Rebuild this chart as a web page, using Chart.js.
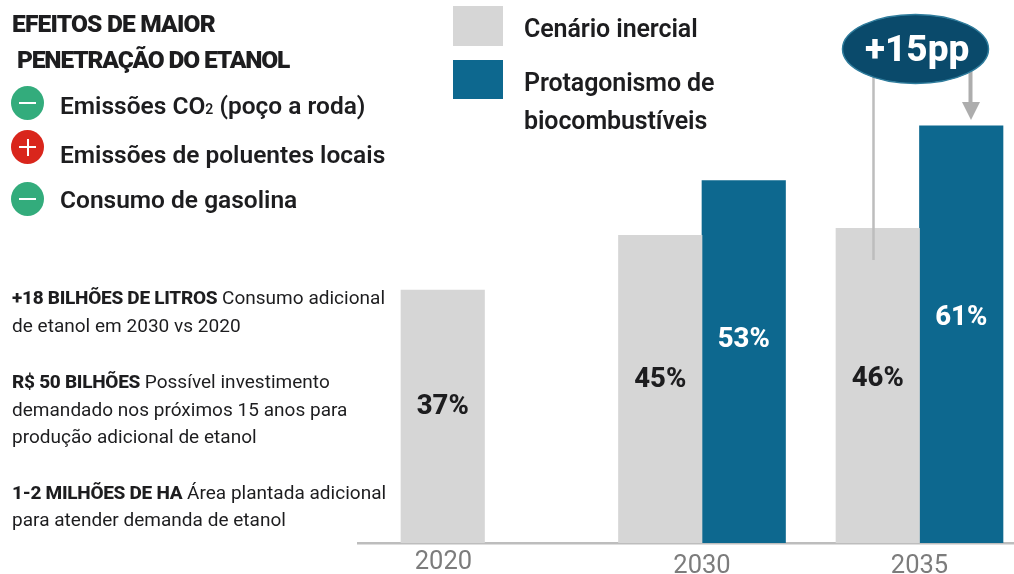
<!DOCTYPE html>
<html lang="pt-BR">
<head>
<meta charset="utf-8">
<script src="https://cdn.jsdelivr.net/npm/chart.js@4"></script>
<style>
  html, body { margin: 0; padding: 0; background: #fff; overflow: hidden; }
  #stage { position: relative; width: 1014px; height: 574px; font-family: Roboto, sans-serif; color: #1d1d1f; }
  #chart { position: absolute; left: 0; top: 0; }
  .t { position: absolute; white-space: nowrap; line-height: 1; }
  .h { font-size: 24.5px; font-weight: 900; letter-spacing: -0.95px; }
  .e { font-size: 24.5px; font-weight: 600; letter-spacing: 0px; }
  .p { font-size: 19px; font-weight: 400; letter-spacing: 0.02px; }
  .p b { font-weight: 800; letter-spacing: -0.28px; }
  .lg { font-size: 25px; font-weight: 600; letter-spacing: -0.1px; }
  .sw { position: absolute; width: 50px; }
  .dot { position: absolute; width: 33px; height: 34px; border-radius: 50%; }
  .dot::before { content: ""; position: absolute; left: 8px; top: 16px; width: 17px; height: 2px; background: #fff; }
  .dot.plus::after { content: ""; position: absolute; left: 15.5px; top: 8.5px; width: 2px; height: 17px; background: #fff; }
  sub { font-size: 14px; vertical-align: baseline; }
  svg { position: absolute; left: 0; top: 0; }
  #badge { position: absolute; left: 865px; top: 30px; font-size: 37px; font-weight: 800; letter-spacing: 0px; color: #fff; line-height: 1; }
</style>
</head>
<body>
<div id="stage">
  <canvas id="chart" width="1014" height="574"></canvas>

  <svg width="1014" height="574">
    <line x1="873.5" y1="60" x2="873.5" y2="260" stroke="#bdbdbd" stroke-width="2.5"/>
    <line x1="970.5" y1="70" x2="970.5" y2="104" stroke="#adadad" stroke-width="4"/>
    <polygon points="962,102 980,102 971,120" fill="#adadad"/>
    <ellipse cx="915.5" cy="49" rx="73" ry="34.5" fill="#0a4a6b" stroke="#2f7c9c" stroke-width="1.5"/>
  </svg>
  <div id="badge">+15pp</div>

  <div class="t h" style="left:12px;top:12px;letter-spacing:-0.8px">EFEITOS DE MAIOR</div>
  <div class="t h" style="left:17px;top:48px;letter-spacing:-1.15px">PENETRAÇÃO DO ETANOL</div>

  <div class="dot" style="left:11px;top:86px;background:#33ac7c"></div>
  <div class="t e" style="left:60px;top:94px">Emissões CO<sub>2</sub> (poço a roda)</div>
  <div class="dot plus" style="left:11px;top:130px;background:#d9261c"></div>
  <div class="t e" style="left:60px;top:143px">Emissões de poluentes locais</div>
  <div class="dot" style="left:11px;top:182px;background:#33ac7c"></div>
  <div class="t e" style="left:60px;top:188px">Consumo de gasolina</div>

  <div class="t p" style="left:12px;top:288px"><b>+18 BILHÕES DE LITROS</b> Consumo adicional</div>
  <div class="t p" style="left:12px;top:316px">de etanol em 2030 vs 2020</div>
  <div class="t p" style="left:12px;top:372px"><b>R$ 50 BILHÕES</b> Possível investimento</div>
  <div class="t p" style="left:12px;top:400px">demandado nos próximos 15 anos para</div>
  <div class="t p" style="left:12px;top:427px">produção adicional de etanol</div>
  <div class="t p" style="left:12px;top:483px"><b>1-2 MILHÕES DE HA</b> Área plantada adicional</div>
  <div class="t p" style="left:12px;top:510px">para atender demanda de etanol</div>

  <div id="legend"></div>
</div>

<script>
// Data
const categories = ['2020', '2030', '2035'];
const inercial = [37, 45, 46];
const protagonismo = [null, 53, 61];
const inercialName = 'Cenário inercial';
const protagonismoName = ['Protagonismo de', 'biocombustíveis'];

// Style
const GRAY = '#d6d6d6';
const BLUE = '#0d688f';
const labelLift = [[9, 9, 7], [null, 22, 16]];

const barLabels = {
  id: 'barLabels',
  afterDatasetsDraw(chart) {
    const ctx = chart.ctx;
    ctx.save();
    ctx.textAlign = 'center';
    ctx.textBaseline = 'middle';
    ctx.font = '800 27.5px Roboto, sans-serif';
    chart.data.datasets.forEach((ds, d) => {
      chart.getDatasetMeta(d).data.forEach((bar, i) => {
        const v = ds.data[i] && ds.data[i].y;
        if (v == null) return;
        const mid = (bar.y + bar.base) / 2;
        ctx.fillStyle = d === 0 ? '#1d1d1f' : '#ffffff';
        ctx.fillText(v + '%', bar.x, mid - labelLift[d][i]);
      });
    });
    ctx.restore();
  }
};

// x is a numeric position per category so the axis can run past the last group on the right
const toPoints = arr => arr.map((y, i) => ({ x: i, y }));
// Category-label anchors on the axis; the first label sits under its lone bar
const tickAnchors = [-0.189, 1, 2];

new Chart(document.getElementById('chart'), {
  type: 'bar',
  data: {
    datasets: [
      { label: inercialName, data: toPoints(inercial), backgroundColor: GRAY, barThickness: 83.5 },
      { label: protagonismoName.join(' '), data: toPoints(protagonismo), backgroundColor: BLUE, barThickness: 83.5 }
    ]
  },
  plugins: [barLabels, {
    id: 'white',
    beforeDraw(c) { c.ctx.save(); c.ctx.fillStyle = '#fff'; c.ctx.fillRect(0, 0, c.width, c.height); c.ctx.restore(); }
  }],
  options: {
    responsive: false,
    animation: false,
    layout: { padding: { left: 358, right: 0, top: 0, bottom: 0 } },
    plugins: { legend: { display: false }, tooltip: { enabled: false } },
    scales: {
      x: {
        type: 'linear',
        min: -0.5816,
        max: 2.4345,
        offset: false,
        grid: { display: false, drawTicks: false },
        border: { display: true, color: '#bdbdbd', width: 2.5 },
        afterBuildTicks(scale) { scale.ticks = tickAnchors.map(value => ({ value })); },
        afterFit(scale) { scale.height = 31; },
        ticks: {
          autoSkip: false,
          maxRotation: 0,
          padding: 6,
          color: '#7c7c7c',
          callback: (value, index) => categories[index],
          font: ctx => ({ family: 'Roboto, sans-serif', size: 25.5, weight: 400, lineHeight: ctx.index === 0 ? '28px' : '36px' })
        }
      },
      y: {
        display: false,
        beginAtZero: true,
        min: 0,
        max: 79.4
      }
    }
  }
});

// Legend built from the series names and colours
const legend = document.getElementById('legend');
legend.innerHTML =
  '<div class="sw" style="left:453px;top:6px;height:40px;background:' + GRAY + '"></div>' +
  '<div class="t lg" style="left:524px;top:16px">' + inercialName + '</div>' +
  '<div class="sw" style="left:453px;top:60px;height:39px;background:' + BLUE + '"></div>' +
  '<div class="t lg" style="left:524px;top:70px">' + protagonismoName[0] + '</div>' +
  '<div class="t lg" style="left:524px;top:108px">' + protagonismoName[1] + '</div>';
</script>
</body>
</html>
